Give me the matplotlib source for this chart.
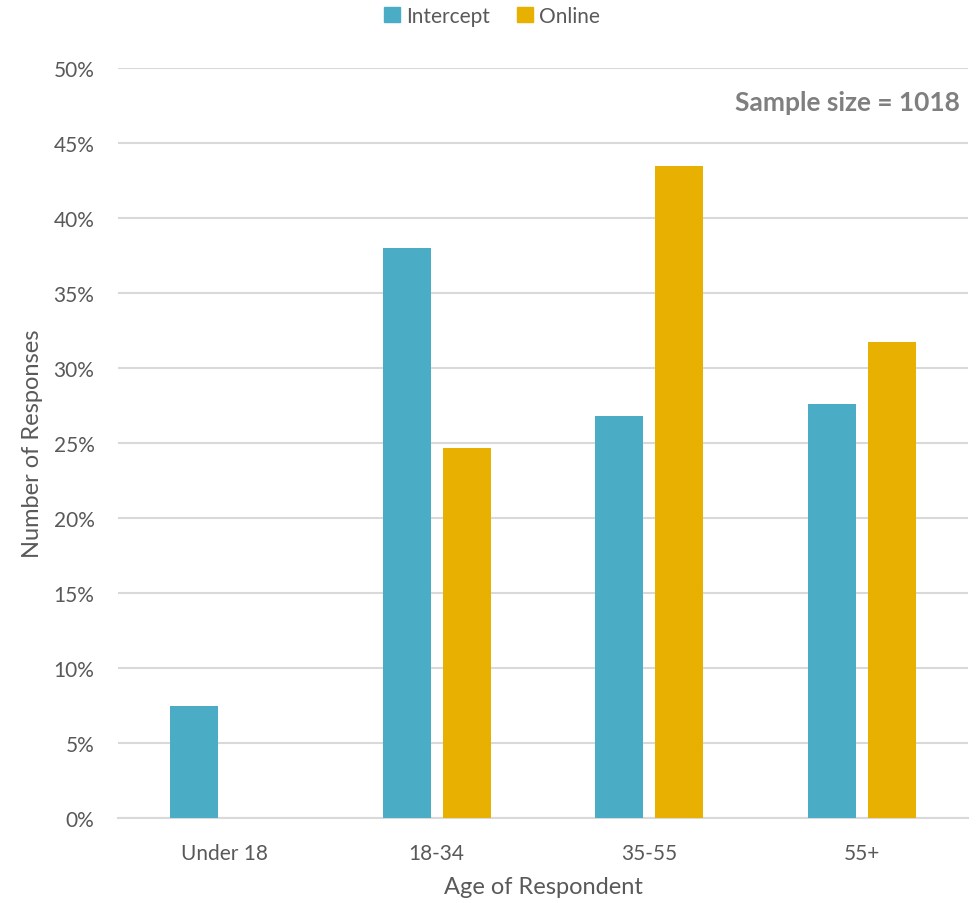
import matplotlib
matplotlib.use("Agg")
import matplotlib.pyplot as plt
from matplotlib.patches import Patch
from matplotlib.ticker import FuncFormatter
import numpy as np

# data
categories = ["Under 18", "18-34", "35-55", "55+"]
intercept = [7.47, 38.0, 26.8, 27.6]
online = [0.0, 24.67, 43.47, 31.73]
yticks = [0, 5, 10, 15, 20, 25, 30, 35, 40, 45, 50]

blue = "#4bacc6"
gold = "#e8b000"
grey_txt = "#595959"
grid_c = "#d9d9d9"

plt.rcParams['font.family'] = ['Lato', 'DejaVu Sans']

fig = plt.figure(figsize=(9.78, 9.04), dpi=100)
ax = fig.add_axes([118/978, 85/904, 850/978, 750/904])

x = np.arange(len(categories))
w = 48/212.5
off = 30/212.5
ax.bar(x - off, intercept, w, color=blue, zorder=3)
ax.bar(x + off, online, w, color=gold, zorder=3)

ax.set_xlim(-0.5, len(categories) - 0.5)
ax.set_ylim(0, 50)
ax.set_yticks(yticks)
ax.yaxis.set_major_formatter(FuncFormatter(lambda v, p: f"{v:.0f}%"))
ax.set_xticks(x)
ax.set_xticklabels(categories)
ax.grid(axis="y", color=grid_c, linewidth=1.5, zorder=0)
for s in ["top", "right", "left"]:
    ax.spines[s].set_visible(False)
ax.spines["bottom"].set_color(grid_c)
ax.spines["bottom"].set_linewidth(1.5)
ax.tick_params(axis="both", length=0, labelsize=15, labelcolor=grey_txt)
ax.tick_params(axis="y", pad=17)
ax.tick_params(axis="x", pad=18)

ax.set_xlabel("Age of Respondent", fontsize=17, color=grey_txt, va="center")
ax.set_ylabel("Number of Responses", fontsize=17, color=grey_txt, va="center")
ax.xaxis.set_label_coords(0.5, -(888 - 819) / 750)
ax.yaxis.set_label_coords(-(118 - 33) / 850, 0.5)

ax.text(0.99, 0.955, "Sample size = 1018", transform=ax.transAxes,
        ha="right", va="center", fontsize=19, fontweight="bold", color="#7f7f7f")

handles = [Patch(color=blue, label="Intercept"), Patch(color=gold, label="Online")]
fig.legend(handles=handles, loc="center", bbox_to_anchor=(492/978, 1 - 17/904),
           ncol=2, frameon=False, fontsize=15, handlelength=0.75, handleheight=0.75,
           handletextpad=0.3, columnspacing=1.3, labelcolor=grey_txt)

fig.savefig("out.png", dpi=100)
